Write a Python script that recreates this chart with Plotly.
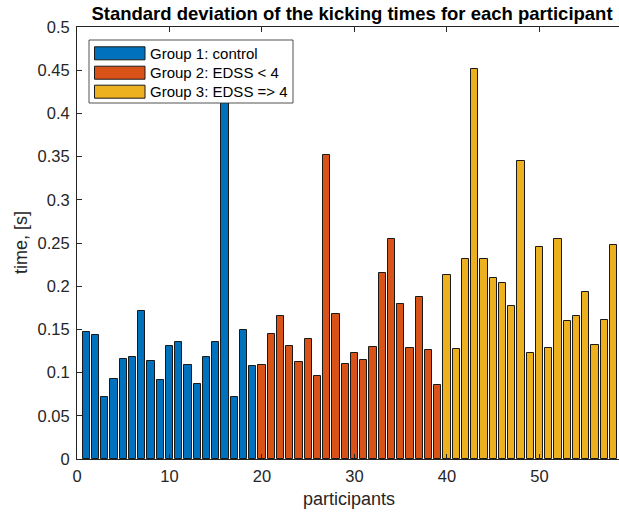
import plotly.graph_objects as go

# Standard deviation of kicking times, one value per participant
group1_sd = [0.147, 0.144, 0.072, 0.093, 0.116, 0.118, 0.171, 0.113, 0.092, 0.131,
             0.136, 0.109, 0.087, 0.118, 0.135, 0.440, 0.072, 0.149, 0.108]
group2_sd = [0.109, 0.145, 0.165, 0.131, 0.112, 0.139, 0.096, 0.352, 0.168, 0.110,
             0.123, 0.115, 0.130, 0.215, 0.255, 0.179, 0.128, 0.188, 0.126, 0.086]
group3_sd = [0.213, 0.127, 0.231, 0.451, 0.231, 0.210, 0.204, 0.177, 0.345, 0.123,
             0.245, 0.128, 0.255, 0.160, 0.165, 0.193, 0.132, 0.161, 0.248]

group_names = ["Group 1: control", "Group 2: EDSS < 4", "Group 3: EDSS => 4"]
group_colors = ["#0072BD", "#D95319", "#EDB120"]
groups = [group1_sd, group2_sd, group3_sd]

x_ticks = [0, 10, 20, 30, 40, 50]
y_ticks = [0, 0.05, 0.1, 0.15, 0.2, 0.25, 0.3, 0.35, 0.4, 0.45, 0.5]

W, H = 619, 518
ML, MT, MB, MR = 77, 27, 59, 0
axis_color = "#262626"
font_family = "Liberation Sans, Arial, sans-serif"

fig = go.Figure()
start = 1
for name, color, vals in zip(group_names, group_colors, groups):
    xs = list(range(start, start + len(vals)))
    start += len(vals)
    fig.add_trace(go.Bar(
        x=xs, y=vals, name=name, width=0.8,
        marker=dict(color=color, line=dict(color="#1a1a1a", width=1)),
        showlegend=False,
    ))

# pixel -> paper coordinate helpers
pw = W - ML - MR
ph = H - MT - MB
def px(xp):
    return (xp - ML) / pw
def py(yp):
    return 1 - (yp - MT) / ph

# Legend box drawn over the bars, with wide colour patches
shapes = [dict(type="rect", xref="paper", yref="paper",
               x0=px(89), x1=px(293), y0=py(103), y1=py(40),
               fillcolor="white", line=dict(color="#262626", width=0.8), layer="above")]
annotations = []
row_y = [53.3, 72.7, 91.7]
for name, color, yc in zip(group_names, group_colors, row_y):
    shapes.append(dict(type="rect", xref="paper", yref="paper",
                       x0=px(94.5), x1=px(145), y0=py(yc + 6.5), y1=py(yc - 6.5),
                       fillcolor=color, line=dict(color="#1a1a1a", width=1), layer="above"))
    annotations.append(dict(x=px(148), y=py(yc), xref="paper", yref="paper",
                            text=name, showarrow=False, xanchor="left", yanchor="middle",
                            font=dict(size=15, color="black", family=font_family)))

# Axis titles
annotations.append(dict(x=px(349), y=py(499), xref="paper", yref="paper",
                        text="participants", showarrow=False,
                        xanchor="center", yanchor="middle",
                        font=dict(size=18, color=axis_color, family=font_family)))
annotations.append(dict(x=px(21), y=py(243), xref="paper", yref="paper",
                        text="time, [s]", showarrow=False, textangle=-90,
                        xanchor="center", yanchor="middle",
                        font=dict(size=18, color=axis_color, family=font_family)))

fig.update_layout(
    width=W, height=H,
    margin=dict(l=ML, r=MR, t=MT, b=MB),
    paper_bgcolor="white", plot_bgcolor="white",
    bargap=0,
    font=dict(family=font_family, color=axis_color, size=16.5),
    title=dict(text="<b>Standard deviation of the kicking times for each participant</b>",
               x=px(352), xref="paper", xanchor="center", y=1 - 14 / H, yanchor="middle",
               font=dict(size=18.5, color="black")),
    xaxis=dict(range=[0, 58.6], tickvals=x_ticks, ticks="inside", ticklen=5,
               tickcolor=axis_color, showline=True, linecolor=axis_color, linewidth=1,
               mirror="ticks", showgrid=False, zeroline=False, ticklabelstandoff=2),
    yaxis=dict(range=[0, 0.5], tickvals=y_ticks, ticks="inside", ticklen=5,
               tickcolor=axis_color, showline=True, linecolor=axis_color, linewidth=1,
               mirror=False, showgrid=False, zeroline=False, ticklabelstandoff=3),
    shapes=shapes, annotations=annotations,
)

fig.write_html("out.html")
